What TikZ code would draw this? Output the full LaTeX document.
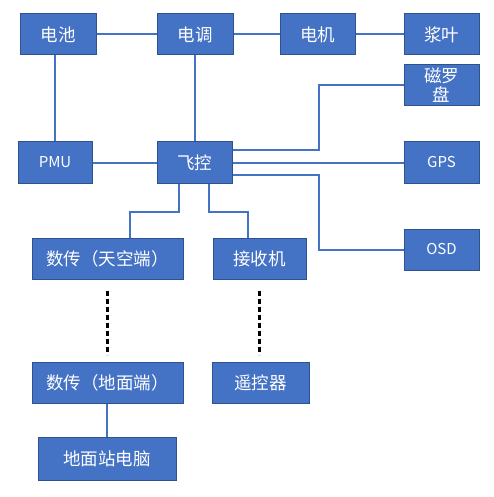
\documentclass[tikz,border=0pt]{standalone}
\usepackage{fontspec}
\setmainfont{Noto Sans CJK SC}
\definecolor{boxblue}{HTML}{4472C4}
\definecolor{boxedge}{HTML}{2F528F}
\begin{document}
\begin{tikzpicture}[x=1pt,y=-1pt,
    blk/.style={draw=boxedge,line width=1pt,fill=boxblue,text=white,inner sep=0pt,
                minimum height=41pt,align=center,font=\fontsize{17.5}{20}\selectfont},
    lat/.style={blk,font=\fontsize{15}{18}\selectfont},
    wire/.style={boxblue,line width=2pt},
    link/.style={black,line width=2.8pt,dash pattern=on 5pt off 3pt}]
        \useasboundingbox (0,0) rectangle (494,497);
        %riga alta
        \node[blk,minimum width=76pt] (batt)  at (58,34.5)    {电池};
        \node[blk,minimum width=76pt] (esc)   at (195,34.5)   {电调};
        \node[blk,minimum width=75pt] (motor) at (317.5,34.5) {电机};
        \node[blk,minimum width=75pt] (prop)  at (441.5,34.5) {浆叶};
        %sensori
        \node[blk,minimum width=75pt] (compass) at (441.5,85.5)  {磁罗\\[-1pt]盘};
        \node[lat,minimum width=75pt] (gps)     at (441.5,162.5) {GPS};
        \node[lat,minimum width=75pt] (osd)     at (441.5,249.5) {OSD};
        %centro
        \node[lat,minimum width=74pt] (pmu) at (55,162.5)    {PMU};
        \node[blk,minimum width=75pt] (fc)  at (194.5,162.5) {飞控};
        %radio
        \node[blk,minimum width=151pt] (dtair) at (107.5,258.5) {数传（天空端）};
        \node[blk,minimum width=93pt]  (rx)    at (259.5,258.5) {接收机};
        \node[blk,minimum width=151pt] (dtgnd) at (107.5,382.5) {数传（地面端）};
        \node[blk,minimum width=97pt]  (rc)    at (260.5,382.5) {遥控器};
        \node[blk,minimum width=138pt,minimum height=43pt] (gcs) at (107,458.5) {地面站电脑};

        %collegamenti
        \draw[wire] (batt) -- (esc);
        \draw[wire] (esc) -- (motor);
        \draw[wire] (motor) -- (prop);
        \draw[wire] (pmu.north) -- (pmu.north |- batt.south);
        \draw[wire] (fc.north) -- (fc.north |- esc.south);
        \draw[wire] (pmu) -- (fc);
        \draw[wire] (fc) -- (gps);
        \draw[wire] ([yshift=12.5pt]fc.east) -- ++(86,0) |- (compass.west);
        \draw[wire] ([yshift=-12.5pt]fc.east) -- ++(86,0) |- (osd.west);
        \draw[wire] ([xshift=-15.5pt]fc.south) -- ++(0,28) -| ([xshift=22.5pt]dtair.north);
        \draw[wire] ([xshift=14.5pt]fc.south) -- ++(0,28) -| ([xshift=-11.5pt]rx.north);
        \draw[wire] (gcs.north) -- (gcs.north |- dtgnd.south);
        %tratteggi
        \draw[link] ([yshift=-11pt]dtair.south) -- ([yshift=7pt]dtgnd.north);
        \draw[link] ([yshift=-11pt]rx.south) -- ([yshift=7pt]rx.south |- rc.north);
\end{tikzpicture}
\end{document}
